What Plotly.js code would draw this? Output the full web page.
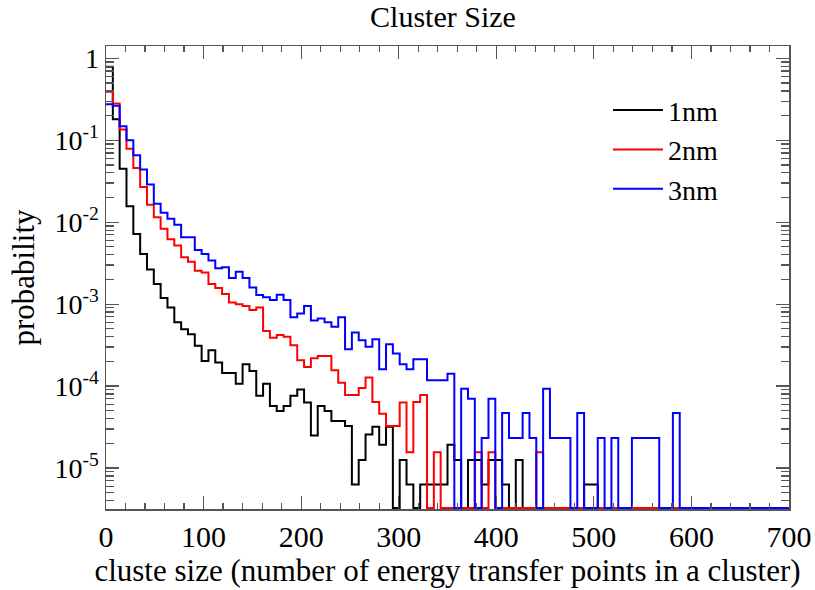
<!DOCTYPE html>
<html>
<head>
<meta charset="utf-8">
<script src="https://cdn.plot.ly/plotly-3.0.1.min.js"></script>
<style>html,body{margin:0;padding:0;background:#fff;}#chart{width:815px;height:590px;}</style>
</head>
<body>
<div id="chart"></div>
<script>
// Histogram: 100 bins of width 7 from 0 to 700 (bin lower edges)
const binWidth = 7;
const nBins = 100;

const seriesNames = ["1nm", "2nm", "3nm"];
const seriesColors = ["#000000", "#ff0000", "#0000ff"];

// probability per bin (0 = empty bin)
const prob1nm = [
  0.79, 0.18, 0.045, 0.0157, 0.0072, 0.0041, 0.00264, 0.00176, 0.00119, 0.00091,
  0.00060, 0.000495, 0.00043, 0.00031, 0.000203, 0.000274, 0.000194, 0.000144, 0.000144, 0.000107,
  0.000185, 0.000153, 7.6e-5, 1.07e-4, 5.7e-5, 4.95e-5, 5.7e-5, 7.6e-5, 9.1e-5, 6.3e-5,
  2.5e-5, 5.7e-5, 4.95e-5, 3.74e-5, 3.74e-5, 3.25e-5, 6.3e-6, 1.25e-5, 2.57e-5, 3.18e-5,
  1.92e-5, 3.18e-5, 0, 1.25e-5, 6.3e-6, 0, 6.3e-6, 6.3e-6, 6.3e-6, 6.3e-6,
  1.92e-5, 1.25e-5, 0, 1.25e-5, 1.25e-5, 6.3e-6, 1.25e-5, 1.25e-5, 6.3e-6, 0,
  1.25e-5, 0, 0, 0, 0, 0, 0, 0, 0, 0,
  6.3e-6, 6.3e-6, 0, 0, 0, 0, 0, 0, 0, 0,
  0, 0, 0, 0, 0, 0, 0, 0, 0, 0,
  0, 0, 0, 0, 0, 0, 0, 0, 0, 0
];
const prob2nm = [
  0.39, 0.281, 0.135, 0.079, 0.0458, 0.0269, 0.0163, 0.0115, 0.0083, 0.0062,
  0.0052, 0.00373, 0.0033, 0.00256, 0.00244, 0.00176, 0.00157, 0.00133, 0.00105, 0.00100,
  0.00095, 0.00085, 0.00091, 0.00047, 0.00039, 0.00042, 0.00040, 0.000315, 0.000207, 0.000171,
  0.000219, 0.000233, 0.000233, 0.000156, 0.000110, 7.8e-5, 7.8e-5, 9.5e-5, 0.000127, 6.4e-5,
  4.6e-5, 3.25e-5, 3.25e-5, 6.3e-5, 1.56e-5, 6.4e-5, 7.8e-5, 0, 1.56e-5, 0,
  0, 0, 0, 0, 1.56e-5, 0, 1.56e-5, 0, 0, 0,
  0, 0, 0, 1.56e-5, 0, 0, 0, 0, 0, 0,
  0, 0, 0, 0, 0, 0, 0, 0, 0, 0,
  0, 0, 0, 0, 0, 0, 0, 0, 0, 0,
  0, 0, 0, 0, 0, 0, 0, 0, 0, 0
];
const prob3nm = [
  0.274, 0.263, 0.148, 0.100, 0.0655, 0.0438, 0.0289, 0.0168, 0.0130, 0.0110,
  0.0093, 0.00656, 0.00656, 0.00459, 0.0041, 0.0034, 0.00274, 0.00281, 0.00208, 0.00249,
  0.00208, 0.0016, 0.00129, 0.00121, 0.00112, 0.0013, 0.00112, 0.00069, 0.00077, 0.00095,
  0.00063, 0.00067, 0.00060, 0.00053, 0.00069, 0.000282, 0.00045, 0.000363, 0.000301, 0.000374,
  0.000161, 0.000325, 0.000249, 0.000185, 0.000161, 0.000213, 0.000213, 0.000118, 0.000118, 0.000118,
  0.000141, 0, 9.3e-5, 7.0e-5, 0, 2.33e-5, 7.0e-5, 0, 4.7e-5, 2.33e-5,
  2.33e-5, 4.7e-5, 2.33e-5, 0, 9.3e-5, 2.33e-5, 2.33e-5, 2.33e-5, 0, 4.7e-5,
  0, 0, 2.33e-5, 0, 2.33e-5, 0, 0, 2.33e-5, 2.33e-5, 2.33e-5,
  2.33e-5, 0, 0, 4.7e-5, 0, 0, 0, 0, 0, 0,
  0, 0, 0, 0, 0, 0, 0, 0, 0, 0
];

const xTickVals = [0, 100, 200, 300, 400, 500, 600, 700];
const yTickVals = [1, 0.1, 0.01, 0.001, 0.0001, 0.00001];
const yTickText = ["1", "10<sup>-1</sup>", "10<sup>-2</sup>", "10<sup>-3</sup>", "10<sup>-4</sup>", "10<sup>-5</sup>"];

const yLogMin = -5.5, yLogMax = 0.15;
const floorVal = Math.pow(10, yLogMin + 0.012); // empty bins drawn on the frame bottom (log scale)

// minor log ticks 2..9 x 10^n
const minorY = [];
for (let e = -6; e <= 0; e++) for (let m = 2; m <= 9; m++) minorY.push(m * Math.pow(10, e));

const edges = [];
for (let i = 0; i <= nBins; i++) edges.push(i * binWidth);

function stepY(arr) {
  const y = arr.map(v => v > 0 ? v : floorVal);
  y.push(y[y.length - 1]);
  return y;
}

const allSeries = [prob1nm, prob2nm, prob3nm];
const traces = allSeries.map((arr, i) => ({
  type: "scatter",
  mode: "lines",
  x: edges,
  y: stepY(arr),
  name: seriesNames[i],
  line: {shape: "hv", color: seriesColors[i], width: 2},
  hoverinfo: "x+y+name"
}));

const fontFam = "Liberation Serif, serif";
const axisCol = "#555555";

const layout = {
  width: 815, height: 590,
  margin: {l: 106, r: 26, t: 46, b: 81, pad: 0},
  paper_bgcolor: "#ffffff", plot_bgcolor: "#ffffff",
  font: {family: fontFam, color: "#000000", size: 26},
  title: {text: "Cluster Size", font: {family: fontFam, size: 30, color: "#000"}, x: 443/815, xanchor: "center", y: 1 - 16/590, yanchor: "middle", xref: "container", yref: "container"},
  showlegend: true,
  legend: {x: 0.735, y: 0.915, xanchor: "left", yanchor: "top", bgcolor: "rgba(0,0,0,0)", borderwidth: 0,
           font: {family: fontFam, size: 28, color: "#000"}, itemwidth: 50, traceorder: "normal"},
  xaxis: {
    range: [0, 700], tickmode: "array", tickvals: xTickVals, ticktext: xTickVals.map(String),
    ticks: "inside", ticklen: 13, tickwidth: 1.2, tickcolor: axisCol,
    showline: true, linecolor: axisCol, linewidth: 1.5, mirror: "ticks",
    showgrid: false, zeroline: false,
    minor: {dtick: 20, tick0: 0, ticks: "inside", ticklen: 6, tickwidth: 1.2, tickcolor: axisCol, showgrid: false},
    tickfont: {family: fontFam, size: 30, color: "#000"},
    title: {text: "cluste size (number of energy transfer points in a cluster)", font: {family: fontFam, size: 31, color: "#000"}, standoff: 8},
    automargin: false
  },
  yaxis: {
    type: "log", range: [yLogMin, yLogMax], tickmode: "array", tickvals: yTickVals, ticktext: yTickText,
    ticks: "inside", ticklen: 13, tickwidth: 1.2, tickcolor: axisCol,
    showline: true, linecolor: axisCol, linewidth: 1.5, mirror: "ticks",
    showgrid: false, zeroline: false,
    minor: {tickmode: "array", tickvals: minorY, ticks: "inside", ticklen: 8, tickwidth: 1.2, tickcolor: axisCol, showgrid: false},
    tickfont: {family: fontFam, size: 28, color: "#000"},
    title: {text: "probability", font: {family: fontFam, size: 31, color: "#000"}, standoff: 10},
    automargin: false
  }
};

Plotly.newPlot("chart", traces, layout, {displayModeBar: false, staticPlot: true});
</script>
</body>
</html>
